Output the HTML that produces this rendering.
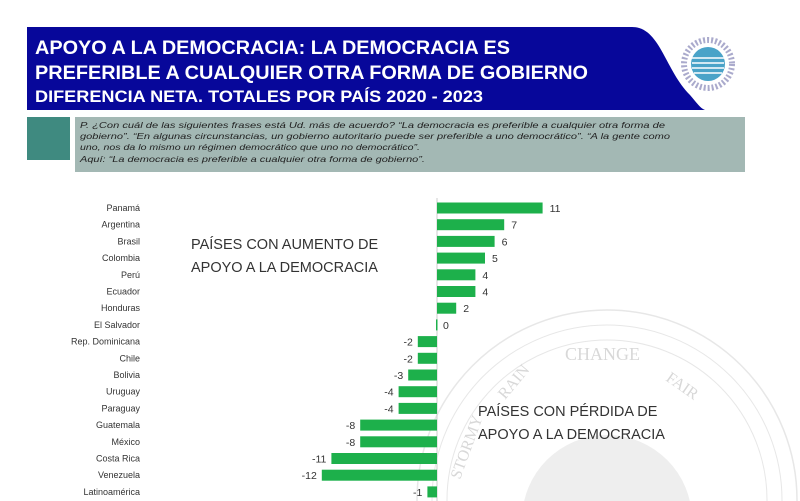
<!DOCTYPE html>
<html><head><meta charset="utf-8"><style>
html,body{margin:0;padding:0;background:#fff;overflow:hidden;width:800px;height:501px;}
svg{display:block;}
</style></head><body>
<svg width="800" height="501" viewBox="0 0 800 501" xmlns="http://www.w3.org/2000/svg" font-family="Liberation Sans, sans-serif">
<rect width="800" height="501" fill="#fff"/>
<g opacity="0.35" fill="none" stroke="#bbb">
<circle cx="607" cy="500" r="190" stroke-width="1.5"/>
<circle cx="607" cy="500" r="175" stroke-width="1"/>
<circle cx="607" cy="500" r="160" stroke-width="1"/>
</g>
<circle cx="607" cy="520" r="85" fill="#eee"/>
<g fill="#d8d8d8" font-family="Liberation Serif, serif">
<text x="565" y="360" font-size="18">CHANGE</text>
<text x="505" y="400" font-size="16" transform="rotate(-50 505 400)">RAIN</text>
<text x="665" y="380" font-size="16" transform="rotate(35 665 380)">FAIR</text>
<text x="460" y="480" font-size="16" transform="rotate(-70 460 480)">STORMY</text>
</g>
<path d="M27 27 H632 C660 27 665 70 690 95 C697 103 700 108 705 110 H27 Z" fill="#07079a"/>
<g fill="#fff" font-weight="bold">
<text x="35" y="54" font-size="19" textLength="475" lengthAdjust="spacingAndGlyphs">APOYO A LA DEMOCRACIA:  LA DEMOCRACIA ES</text>
<text x="35" y="79" font-size="19" textLength="553" lengthAdjust="spacingAndGlyphs">PREFERIBLE  A CUALQUIER  OTRA FORMA DE GOBIERNO</text>
<text x="35" y="102" font-size="17" textLength="448" lengthAdjust="spacingAndGlyphs">DIFERENCIA NETA. TOTALES POR PAÍS  2020 - 2023</text>
</g>
<circle cx="708" cy="64" r="24" fill="none" stroke="#aac" stroke-width="6" stroke-dasharray="2 2"/>
<circle cx="708" cy="64" r="17" fill="#4aa3c8"/>
<g stroke="#fff" stroke-width="1.5"><line x1="692" y1="58" x2="724" y2="58"/><line x1="692" y1="63" x2="724" y2="63"/><line x1="692" y1="68" x2="724" y2="68"/><line x1="694" y1="73" x2="722" y2="73"/></g>
<rect x="27" y="117" width="43" height="43" fill="#3f8a80"/>
<rect x="75" y="117" width="670" height="55" fill="#a3b8b4"/>
<g fill="#222" font-size="8.5" font-style="italic">
<text x="80" y="128" textLength="585" lengthAdjust="spacingAndGlyphs">P. ¿Con cuál de las siguientes frases está Ud. más de acuerdo? “La democracia es preferible a cualquier otra forma de</text>
<text x="80" y="139" textLength="590" lengthAdjust="spacingAndGlyphs">gobierno”. “En algunas circunstancias, un gobierno autoritario puede ser preferible a uno democrático”. “A la gente como</text>
<text x="80" y="150" textLength="340" lengthAdjust="spacingAndGlyphs">uno, nos da lo mismo un régimen democrático que uno no democrático”.</text>
<text x="80" y="162" textLength="345" lengthAdjust="spacingAndGlyphs">Aquí: “La democracia es preferible a cualquier otra forma de gobierno”.</text>
</g>
<g fill="#333" font-size="14.5">
<text x="191" y="249">PAÍSES CON AUMENTO DE</text>
<text x="191" y="272">APOYO A LA DEMOCRACIA</text>
<text x="478" y="416">PAÍSES CON PÉRDIDA DE</text>
<text x="478" y="439">APOYO A LA DEMOCRACIA</text>
</g>
<line x1="437" y1="198" x2="437" y2="501" stroke="#ccc" stroke-width="1"/>
<g font-size="9" fill="#333">
<g transform="translate(0,208)"><text x="140" y="3" text-anchor="end">Panamá</text><rect x="437" y="-5.5" width="105.6" height="11" fill="#1db04b"/><text x="549.6" y="4" font-size="10.5">11</text></g>
<g transform="translate(0,224.7)"><text x="140" y="3" text-anchor="end">Argentina</text><rect x="437" y="-5.5" width="67.2" height="11" fill="#1db04b"/><text x="511.2" y="4" font-size="10.5">7</text></g>
<g transform="translate(0,241.4)"><text x="140" y="3" text-anchor="end">Brasil</text><rect x="437" y="-5.5" width="57.6" height="11" fill="#1db04b"/><text x="501.6" y="4" font-size="10.5">6</text></g>
<g transform="translate(0,258.1)"><text x="140" y="3" text-anchor="end">Colombia</text><rect x="437" y="-5.5" width="48" height="11" fill="#1db04b"/><text x="492" y="4" font-size="10.5">5</text></g>
<g transform="translate(0,274.8)"><text x="140" y="3" text-anchor="end">Perú</text><rect x="437" y="-5.5" width="38.4" height="11" fill="#1db04b"/><text x="482.4" y="4" font-size="10.5">4</text></g>
<g transform="translate(0,291.5)"><text x="140" y="3" text-anchor="end">Ecuador</text><rect x="437" y="-5.5" width="38.4" height="11" fill="#1db04b"/><text x="482.4" y="4" font-size="10.5">4</text></g>
<g transform="translate(0,308.2)"><text x="140" y="3" text-anchor="end">Honduras</text><rect x="437" y="-5.5" width="19.2" height="11" fill="#1db04b"/><text x="463.2" y="4" font-size="10.5">2</text></g>
<g transform="translate(0,324.9)"><text x="140" y="3" text-anchor="end">El Salvador</text><rect x="436" y="-5.5" width="1.5" height="11" fill="#1db04b"/><text x="443" y="4" font-size="10.5">0</text></g>
<g transform="translate(0,341.6)"><text x="140" y="3" text-anchor="end">Rep. Dominicana</text><rect x="417.8" y="-5.5" width="19.2" height="11" fill="#1db04b"/><text x="412.8" y="4" font-size="10.5" text-anchor="end">-2</text></g>
<g transform="translate(0,358.3)"><text x="140" y="3" text-anchor="end">Chile</text><rect x="417.8" y="-5.5" width="19.2" height="11" fill="#1db04b"/><text x="412.8" y="4" font-size="10.5" text-anchor="end">-2</text></g>
<g transform="translate(0,375)"><text x="140" y="3" text-anchor="end">Bolivia</text><rect x="408.2" y="-5.5" width="28.8" height="11" fill="#1db04b"/><text x="403.2" y="4" font-size="10.5" text-anchor="end">-3</text></g>
<g transform="translate(0,391.7)"><text x="140" y="3" text-anchor="end">Uruguay</text><rect x="398.6" y="-5.5" width="38.4" height="11" fill="#1db04b"/><text x="393.6" y="4" font-size="10.5" text-anchor="end">-4</text></g>
<g transform="translate(0,408.4)"><text x="140" y="3" text-anchor="end">Paraguay</text><rect x="398.6" y="-5.5" width="38.4" height="11" fill="#1db04b"/><text x="393.6" y="4" font-size="10.5" text-anchor="end">-4</text></g>
<g transform="translate(0,425.1)"><text x="140" y="3" text-anchor="end">Guatemala</text><rect x="360.2" y="-5.5" width="76.8" height="11" fill="#1db04b"/><text x="355.2" y="4" font-size="10.5" text-anchor="end">-8</text></g>
<g transform="translate(0,441.8)"><text x="140" y="3" text-anchor="end">México</text><rect x="360.2" y="-5.5" width="76.8" height="11" fill="#1db04b"/><text x="355.2" y="4" font-size="10.5" text-anchor="end">-8</text></g>
<g transform="translate(0,458.5)"><text x="140" y="3" text-anchor="end">Costa Rica</text><rect x="331.4" y="-5.5" width="105.6" height="11" fill="#1db04b"/><text x="326.4" y="4" font-size="10.5" text-anchor="end">-11</text></g>
<g transform="translate(0,475.2)"><text x="140" y="3" text-anchor="end">Venezuela</text><rect x="321.8" y="-5.5" width="115.2" height="11" fill="#1db04b"/><text x="316.8" y="4" font-size="10.5" text-anchor="end">-12</text></g>
<g transform="translate(0,491.9)"><text x="140" y="3" text-anchor="end">Latinoamérica</text><rect x="427.4" y="-5.5" width="9.6" height="11" fill="#1db04b"/><text x="422.4" y="4" font-size="10.5" text-anchor="end">-1</text></g>
</g>
</svg>
</body></html>
